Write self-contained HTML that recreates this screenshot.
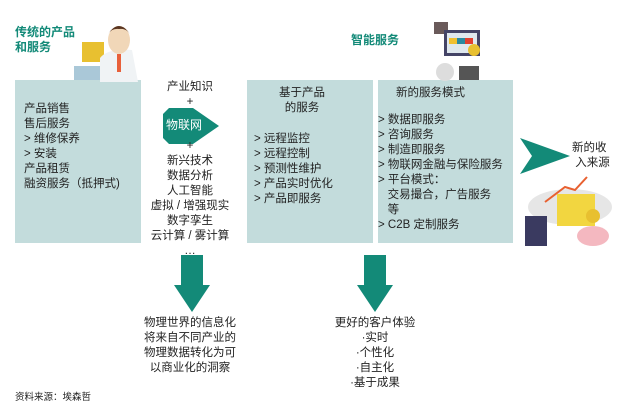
<!DOCTYPE html>
<html><head><meta charset="utf-8"><style>
body{margin:0;width:640px;height:416px;background:#fff;font-family:"Liberation Sans","Noto Sans CJK SC",sans-serif;color:#222;position:relative;overflow:hidden}
.a{position:absolute;font-size:11.5px;line-height:15px;white-space:nowrap}
.box{position:absolute;background:#c3dcdc}
.g{color:#138a78;font-weight:bold}
</style></head><body>
<div class="box" style="left:15px;top:80px;width:126px;height:163px"></div>
<div class="box" style="left:247px;top:80px;width:126px;height:163px"></div>
<div class="box" style="left:378px;top:80px;width:135px;height:163px"></div>
<div class="a g" style="left:15px;top:25px;font-size:12px">传统的产品<br>和服务</div>
<div class="a g" style="left:351px;top:33px;font-size:12px">智能服务</div>
<svg style="position:absolute;left:70px;top:20px" width="70" height="62">
<rect x="4" y="46" width="28" height="14" fill="#aac8d8"/>
<rect x="12" y="22" width="22" height="20" fill="#e8c030"/>
<path d="M30 38 Q38 28 62 30 L68 62 L30 62Z" fill="#f0f3f5"/>
<ellipse cx="49" cy="20" rx="11" ry="14" fill="#f1d7b8"/>
<path d="M38 14 Q49 -2 60 14 Q56 8 49 9 Q42 8 38 14Z" fill="#5a3520"/>
<rect x="47" y="34" width="4" height="18" fill="#e8603a"/>
</svg>
<svg style="position:absolute;left:434px;top:22px" width="60" height="60">
<rect x="0" y="0" width="14" height="12" fill="#6a5a5a"/>
<rect x="10" y="8" width="36" height="26" fill="#446"/><rect x="13" y="11" width="30" height="20" fill="#dfe8ee"/>
<rect x="15" y="16" width="8" height="6" fill="#f0c030"/><rect x="23" y="16" width="8" height="6" fill="#2a8aa0"/><rect x="31" y="16" width="8" height="6" fill="#e04030"/>
<circle cx="11" cy="50" r="9" fill="#ddd"/>
<rect x="25" y="44" width="20" height="14" fill="#555"/>
<circle cx="40" cy="28" r="6" fill="#e8c030"/>
</svg>
<div class="a" style="left:24px;top:102px">产品销售<br>售后服务<br>&gt; 维修保养<br>&gt; 安装<br>产品租赁<br>融资服务（抵押式)</div>
<div class="a" style="left:142px;top:80px;width:96px;text-align:center">产业知识<br>+</div>
<svg style="position:absolute;left:163px;top:108px" width="60" height="36"><polygon points="0,6 6,0 30,0 56,18 30,36 6,36 0,30" fill="#138a78"/></svg>
<div class="a" style="left:166px;top:118px;color:#fff;font-size:12px">物联网</div>
<div class="a" style="left:142px;top:139px;width:96px;text-align:center">+<br>新兴技术<br>数据分析<br>人工智能<br>虚拟 / 增强现实<br>数字孪生<br>云计算 / 雾计算<br>…</div>
<div class="a" style="left:247px;top:86px;width:110px;text-align:center">基于产品<br>的服务</div>
<div class="a" style="left:254px;top:132px">&gt; 远程监控<br>&gt; 远程控制<br>&gt; 预测性维护<br>&gt; 产品实时优化<br>&gt; 产品即服务</div>
<div class="a" style="left:396px;top:86px">新的服务模式</div>
<div class="a" style="left:378px;top:113px">&gt; 数据即服务<br>&gt; 咨询服务<br>&gt; 制造即服务<br>&gt; 物联网金融与保险服务<br>&gt; 平台模式：<br>&nbsp;&nbsp;&nbsp;交易撮合，广告服务<br>&nbsp;&nbsp;&nbsp;等<br>&gt; C2B 定制服务</div>
<svg style="position:absolute;left:520px;top:138px" width="50" height="36"><polygon points="0,0 50,18 0,36 12,18" fill="#138a78"/></svg>
<div class="a" style="left:572px;top:141px">新的收<br>&nbsp;入来源</div>
<svg style="position:absolute;left:525px;top:172px" width="90" height="78">
<ellipse cx="45" cy="35" rx="42" ry="18" fill="#e6e6e6"/>
<polyline points="20,30 40,15 50,18 62,5" stroke="#e86030" stroke-width="2" fill="none"/>
<rect x="32" y="22" width="38" height="32" fill="#f2d640"/>
<rect x="0" y="44" width="22" height="30" fill="#3a3a60"/>
<ellipse cx="68" cy="64" rx="16" ry="10" fill="#f4b8c0"/>
<circle cx="68" cy="44" r="7" fill="#e8c030"/>
</svg>
<svg style="position:absolute;left:174px;top:255px" width="36" height="57"><polygon points="7,0 29,0 29,30 36,30 18,57 0,30 7,30" fill="#138a78"/></svg>
<svg style="position:absolute;left:357px;top:255px" width="36" height="57"><polygon points="7,0 29,0 29,30 36,30 18,57 0,30 7,30" fill="#138a78"/></svg>
<div class="a" style="left:130px;top:316px;width:120px;text-align:center">物理世界的信息化<br>将来自不同产业的<br>物理数据转化为可<br>以商业化的洞察</div>
<div class="a" style="left:320px;top:316px;width:110px;text-align:center">更好的客户体验<br>·实时<br>·个性化<br>·自主化<br>·基于成果</div>
<div class="a" style="left:15px;top:390px;font-size:9.5px">资料来源：埃森哲</div>
</body></html>
